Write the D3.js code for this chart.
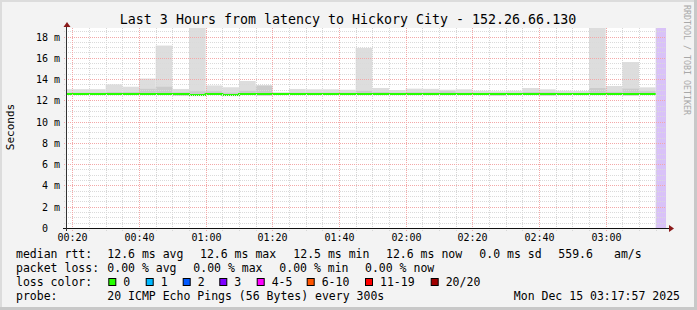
<!DOCTYPE html>
<html>
<head>
<meta charset="utf-8">
<script src="https://cdn.jsdelivr.net/npm/d3@7"></script>
<style>
body { margin:0; background:#f3f3f3; }
svg { display:block; }
text { font-family:"DejaVu Sans Mono", monospace; white-space:pre; }
</style>
</head>
<body>
<script>
var width = 697, height = 310;

// graph window and the 5 minute rrd steps
var graphStart = "00:17:57", graphEnd = "03:17:57", unknownFrom = "03:15:00";
var stepTimes = ["00:15","00:20","00:25","00:30","00:35","00:40","00:45","00:50","00:55",
                 "01:00","01:05","01:10","01:15","01:20","01:25","01:30","01:35","01:40",
                 "01:45","01:50","01:55","02:00","02:05","02:10","02:15","02:20","02:25",
                 "02:30","02:35","02:40","02:45","02:50","02:55","03:00","03:05","03:10"];
// values in ms
var medianRtt = [12.6,12.6,12.6,12.6,12.6,12.6,12.6,12.6,12.5,
                 12.6,12.5,12.6,12.6,12.6,12.6,12.6,12.6,12.6,
                 12.6,12.6,12.6,12.6,12.6,12.6,12.6,12.6,12.6,
                 12.6,12.6,12.6,12.6,12.6,12.6,12.6,12.6,12.6];
var smokeMax  = [13.05,13.05,13.05,13.5,13.28,14.05,17.15,13.07,20.5,
                 13.4,13.23,13.82,13.44,12.75,13.07,13.04,13.04,13.0,
                 16.93,13.16,12.97,13.1,13.08,13.0,13.04,12.9,12.85,
                 12.9,13.16,13.04,12.9,12.88,20.0,13.35,15.6,13.22];
var smokeInner = [12.72,12.72,12.72,12.78,12.78,13.08,13.28,12.75,12.85,
                  12.85,12.72,12.9,13.36,12.7,12.72,12.72,12.72,12.72,
                  12.9,12.78,12.72,12.76,12.76,12.85,12.72,12.7,12.7,
                  12.7,12.78,12.75,12.7,12.7,13.16,12.8,13.1,12.85];
var smokeMin  = [12.55,12.55,12.55,12.55,12.55,12.55,12.55,12.42,12.4,
                 12.55,12.4,12.55,12.45,12.55,12.55,12.55,12.55,12.55,
                 12.55,12.5,12.55,12.5,12.5,12.55,12.55,12.55,12.45,
                 12.55,12.55,12.45,12.55,12.55,12.5,12.55,12.45,12.55];
var yTicks = [0,2,4,6,8,10,12,14,16,18];
var yTickLabels = [" 0"," 2 m"," 4 m"," 6 m"," 8 m","10 m","12 m","14 m","16 m","18 m"];
var lossLabels = ["0","1","2","3","4-5","6-10","11-19","20/20"];
var lossColors = ["#26ff00","#00b8ff","#0059ff","#7e00ff","#ff00ff","#ff5500","#ff0000","#a00000"];

var title = "Last 3 Hours from latency to Hickory City - 152.26.66.130";
var legendRows = [
  [["median rtt:",16],["12.6 ms avg",107.3],["12.6 ms max",200],["12.5 ms min",293.3],
   ["12.6 ms now",386],["0.0 ms sd",479.3],["559.6",558.3],["am/s",614]],
  [["packet loss:",16],["0.00 % avg",107.3],["0.00 % max",193.3],["0.00 % min",279.3],["0.00 % now",365]],
  [["loss color:",16]],
  [["probe:",16],["20 ICMP Echo Pings (56 Bytes) every 300s",107.3]]
];
var lossBoxX = [108.3,145.7,182.7,219.3,256.7,306.7,365,430.7];
var stamp = "Mon Dec 15 03:17:57 2025";

var parseT = d3.utcParse("%Y-%m-%d %H:%M:%S");
function t(s){ return parseT("2025-12-15 " + (s.length == 5 ? s + ":00" : s)); }

var svg = d3.select("body").append("svg").attr("width", width).attr("height", height);

svg.append("rect").attr("width", width).attr("height", height).attr("fill", "#f3f3f3");

var x = d3.scaleUtc().domain([t(graphStart), t(graphEnd)]).range([65.5, 665.5]);
var y = d3.scaleLinear().domain([0, 18.8]).range([228, 28]);

svg.append("defs").append("clipPath").attr("id","plot")
   .append("rect").attr("x",66).attr("y",28).attr("width",600).attr("height",200);

svg.append("rect").attr("x",66).attr("y",28).attr("width",600).attr("height",200).attr("fill","#ffffff");

var steps = stepTimes.map(function(s,i){
  var a = t(s);
  return {t0:a, t1:d3.utcMinute.offset(a,5), med:medianRtt[i], max:smokeMax[i], inner:smokeInner[i], min:smokeMin[i]};
});

var plot = svg.append("g").attr("clip-path","url(#plot)");

// smoke
plot.selectAll("rect.smoke").data(steps).enter().append("rect")
    .attr("class","smoke")
    .attr("x", function(d){ return x(d.t0); })
    .attr("width", function(d){ return x(d.t1) - x(d.t0); })
    .attr("y", function(d){ return y(d.max); })
    .attr("height", function(d){ return y(d.min) - y(d.max); })
    .attr("fill","#dddddd");
plot.selectAll("rect.inner").data(steps).enter().append("rect")
    .attr("class","inner")
    .attr("x", function(d){ return x(d.t0); })
    .attr("width", function(d){ return x(d.t1) - x(d.t0); })
    .attr("y", function(d){ return y(d.inner); })
    .attr("height", function(d){ return y(d.min) - y(d.inner); })
    .attr("fill","#cbcbcb");

// no data yet
plot.append("rect")
    .attr("x", x(t(unknownFrom))).attr("width", x(t(graphEnd)) - x(t(unknownFrom)) + 1)
    .attr("y", 28).attr("height", 200)
    .attr("fill","#d9c2f8");

// grid
var g = svg.append("g").attr("fill","none").attr("stroke-dasharray","1,1");
var minorY = d3.range(0.5, 18.8, 0.5).filter(function(v){ return v % 2 != 0; });
g.selectAll("line.hmin").data(minorY).enter().append("line")
  .attr("x1",64).attr("x2",666)
  .attr("y1",function(d){ return Math.round(y(d)) + 0.5; })
  .attr("y2",function(d){ return Math.round(y(d)) + 0.5; })
  .attr("stroke","#dadada");
var minorX = x.ticks(d3.utcMinute.every(5)).filter(function(d){ return d.getUTCMinutes() % 20 != 0; });
g.selectAll("line.vmin").data(minorX).enter().append("line")
  .attr("y1",28).attr("y2",231)
  .attr("x1",function(d){ return Math.round(x(d)) + 0.5; })
  .attr("x2",function(d){ return Math.round(x(d)) + 0.5; })
  .attr("stroke","#d6d6d6");
g.selectAll("line.hmaj").data(yTicks.slice(1)).enter().append("line")
  .attr("x1",64).attr("x2",666)
  .attr("y1",function(d){ return Math.round(y(d)) + 0.5; })
  .attr("y2",function(d){ return Math.round(y(d)) + 0.5; })
  .attr("stroke","#f3a8a8");
var majorX = x.ticks(d3.utcMinute.every(20));
g.selectAll("line.vmaj").data(majorX).enter().append("line")
  .attr("y1",28).attr("y2",231)
  .attr("x1",function(d){ return Math.round(x(d)) + 0.5; })
  .attr("x2",function(d){ return Math.round(x(d)) + 0.5; })
  .attr("stroke","#f3a8a8");

// median line
var linePts = steps.map(function(d){ return {t:d.t0, v:d.med}; });
linePts.push({t:steps[steps.length-1].t1, v:medianRtt[medianRtt.length-1]});
var line = d3.line().x(function(d){ return x(d.t); }).y(function(d){ return y(d.v); }).curve(d3.curveStepAfter);
plot.append("path").attr("d", line(linePts))
    .attr("fill","none").attr("stroke", lossColors[0]).attr("stroke-width",2);

// axes
svg.append("line").attr("x1",63).attr("x2",670).attr("y1",228.5).attr("y2",228.5).attr("stroke","#111");
svg.append("line").attr("x1",66.5).attr("x2",66.5).attr("y1",231).attr("y2",25).attr("stroke","#333");
svg.append("path").attr("d","M67,22 L63.5,27 L70.5,27 Z").attr("fill","#8b1a1a");
svg.append("path").attr("d","M674,228.5 L669,225 L669,232 Z").attr("fill","#8b1a1a");

var fmt = d3.utcFormat("%H:%M");
svg.selectAll("text.xl").data(majorX).enter().append("text")
   .attr("x",function(d){ return Math.round(x(d)) + 0.5; }).attr("y",241)
   .attr("text-anchor","middle").attr("font-size","10px").attr("fill","#000")
   .text(function(d){ return fmt(d); });
svg.selectAll("text.yl").data(yTicks).enter().append("text")
   .attr("x",36).attr("y",function(d){ return Math.round(y(d)) + 4; })
   .attr("font-size","10px").attr("fill","#000")
   .text(function(d,i){ return yTickLabels[i]; });

svg.append("text").attr("transform","translate(14,127) rotate(-90)")
   .attr("text-anchor","middle").attr("font-size","11px").text("Seconds");

svg.append("text").attr("x",348).attr("y",24).attr("text-anchor","middle")
   .attr("font-size","13.3px").text(title);

svg.append("text").attr("transform","translate(684,5) rotate(90)")
   .attr("font-size","8.3px").attr("fill","#a8a8a8").text("RRDTOOL / TOBI OETIKER");

// legend
var rowY = [258, 272, 286, 300];
legendRows.forEach(function(row, r){
  row.forEach(function(c){
    svg.append("text").attr("x",c[1]).attr("y",rowY[r]).attr("font-size","11.5px").text(c[0]);
  });
});
lossLabels.forEach(function(l,i){
  svg.append("rect").attr("x",lossBoxX[i] + 0.5).attr("y",278.5).attr("width",7).attr("height",7)
     .attr("fill",lossColors[i]).attr("stroke","#000");
  svg.append("text").attr("x",lossBoxX[i] + 15).attr("y",286).attr("font-size","11.5px").text(l);
});
svg.append("text").attr("x",680).attr("y",300).attr("text-anchor","end").attr("font-size","11.5px").text(stamp);

// frame
svg.append("rect").attr("x",0).attr("y",0).attr("width",width).attr("height",2).attr("fill","#dcdcdc");
svg.append("rect").attr("x",0).attr("y",0).attr("width",2).attr("height",height).attr("fill","#dcdcdc");
svg.append("rect").attr("x",width-3).attr("y",0).attr("width",3).attr("height",height).attr("fill","#c8c8c8");
svg.append("rect").attr("x",0).attr("y",height-3).attr("width",width).attr("height",3).attr("fill","#c8c8c8");
</script>
</body>
</html>
